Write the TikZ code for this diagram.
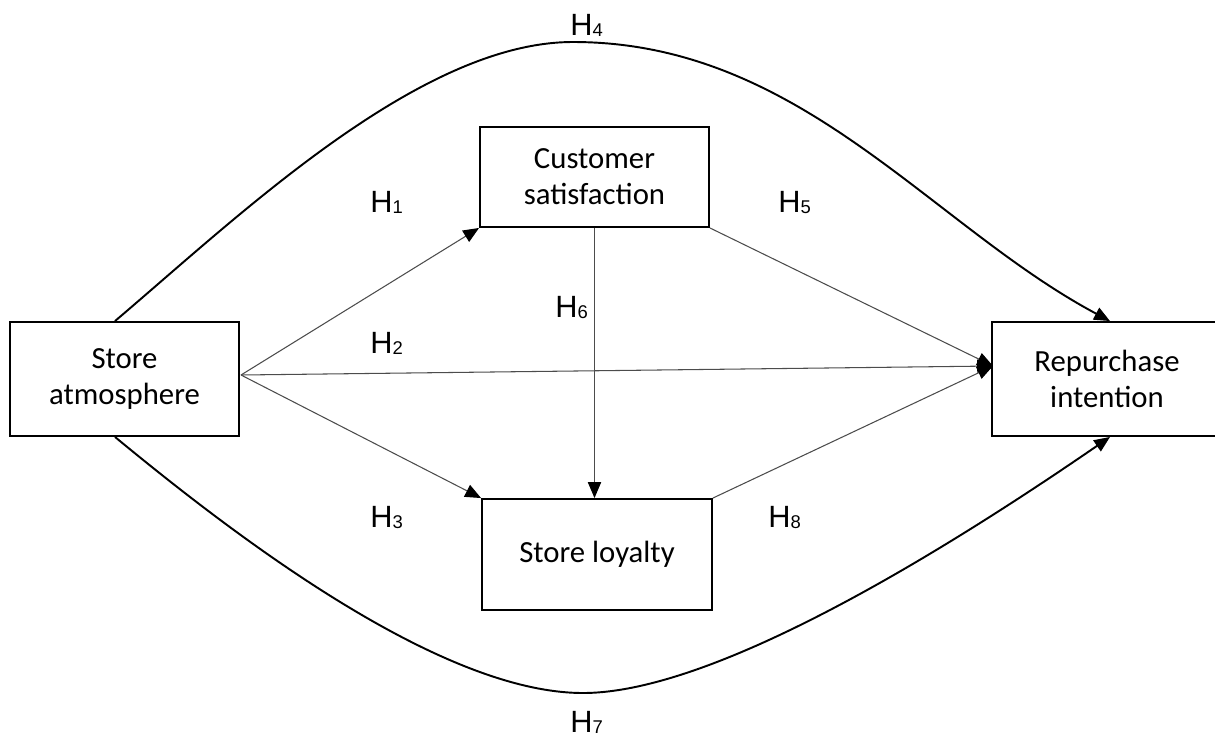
\documentclass[tikz,border=0pt]{standalone}
\usepackage{fontspec}
\setmainfont{Carlito}
\newfontfamily\labfont{Liberation Sans}
\usetikzlibrary{arrows.meta}
\newcommand\Hs[1]{H\raisebox{-1pt}{\fontsize{10.5}{10.5}\selectfont #1}}
\begin{document}
\begin{tikzpicture}[x=0.02cm,y=-0.02cm,
  box/.style={draw,line width=1.1pt,align=center,inner sep=0pt,font=\fontsize{17.5}{20.5}\selectfont},
  tip/.style={-{Triangle[length=9pt,width=7.5pt,color=black]}},
  thinarrow/.style={draw=black!70,line width=0.6pt,tip},
  curvearrow/.style={draw=black,line width=1.1pt,tip},
  lab/.style={font=\labfont\fontsize{17.5}{17.5}\selectfont,inner sep=0pt,anchor=base west}]
\useasboundingbox (0,0) rectangle (1215,738);
\node[box,minimum width=4.58cm,minimum height=2.28cm] (SA) at (124.5,379) {Store\\atmosphere};
\node[box,minimum width=4.58cm,minimum height=2.0cm] (CS) at (594.5,177) {Customer\\satisfaction};
\node[box,minimum width=4.6cm,minimum height=2.22cm] (SL) at (597,554.5) {Store loyalty};
\node[box,minimum width=4.6cm,minimum height=2.28cm] (RI) at (1107,379) {Repurchase\\intention};
\coordinate (src) at (241,375);
\coordinate (conv) at (993,366);
% straight connectors
\draw[thinarrow] (src) -- (CS.south west);
\draw[thinarrow] (src) -- (conv);
\draw[thinarrow] (src) -- (SL.north west);
\draw[thinarrow] (CS.south) -- (CS.south |- SL.north);
\draw[thinarrow] (CS.south east) -- (conv);
\draw[thinarrow] (SL.north east) -- (conv);
% curves
\draw[curvearrow] ([xshift=-0.19cm]SA.north) .. controls (240,215) and (420,42) .. (573,42)
  .. controls (800,42) and (930,225) .. ([xshift=0.06cm]RI.north);
\draw[curvearrow] ([xshift=-0.19cm]SA.south) .. controls (235,536) and (440,693) .. (583,693)
  .. controls (720,693) and (960,540) .. ([xshift=0.06cm]RI.south);
% labels
\node[lab] (h1) at (370,212) {\Hs{1}};
\node[lab] (h2) at (370,353) {\Hs{2}};
\node[lab] (h3) at (370,527) {\Hs{3}};
\node[lab] (h4) at (570,35) {\Hs{4}};
\node[lab] (h5) at (778,212) {\Hs{5}};
\node[lab] (h6) at (555,317) {\Hs{6}};
\node[lab] (h7) at (570,732) {\Hs{7}};
\node[lab] (h8) at (768,527) {\Hs{8}};
\end{tikzpicture}
\end{document}
